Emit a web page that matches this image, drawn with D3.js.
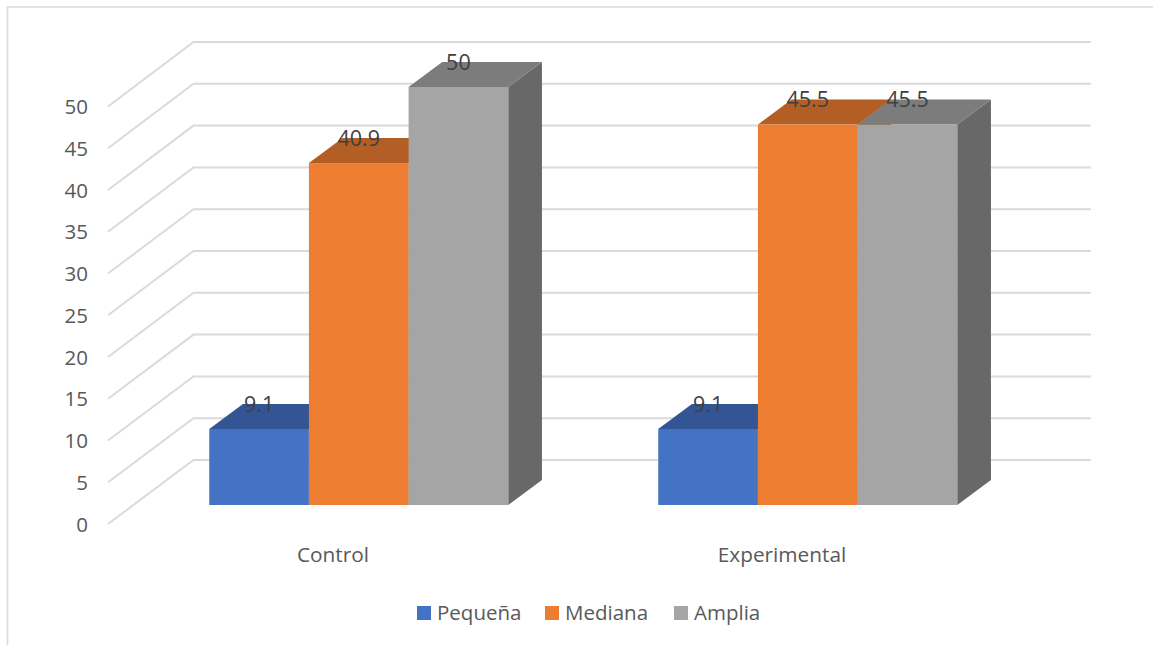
<!DOCTYPE html>
<html>
<head>
<meta charset="utf-8">
<script src="https://cdn.jsdelivr.net/npm/d3@7"></script>
<style>
html,body{margin:0;padding:0;background:#fff;}
svg{display:block;}
text{font-family:"Open Sans","Noto Sans",sans-serif;}
</style>
</head>
<body>
<svg id="chart" width="1153" height="645"></svg>
<script>
const categories = ["Control", "Experimental"];
const seriesNames = ["Pequeña", "Mediana", "Amplia"];
const pequena = [9.1, 9.1];
const mediana = [40.9, 45.5];
const amplia = [50, 45.5];
const seriesValues = [pequena, mediana, amplia];
const yTicks = [0, 5, 10, 15, 20, 25, 30, 35, 40, 45, 50];
const frontColors = ["#4472C4", "#ED7D31", "#A5A5A5"];
const topColors = ["#335593", "#B25E25", "#7C7C7C"];
const sideColors = ["#2A4679", "#8F4A1D", "#686868"];

const svg = d3.select("#chart");

// Outer chart frame: only its top and left edges show
svg.append("path").attr("d", "M7.5,645V7H1153").attr("fill", "none").attr("stroke", "#d9d9d9").attr("stroke-width", 1.6);

// Scales for the back wall, the wall's front edge and the bar fronts
const yBack = d3.scaleLinear().domain([0, 50]).range([460, 42]);
const yWallFront = d3.scaleLinear().domain([0, 50]).range([524, 106.5]);
const yBar = d3.scaleLinear().domain([0, 50]).range([505, 87]);
const x0 = d3.scaleBand().domain(categories).range([134.5, 1032.5]);
const x1 = d3.scaleBand().domain(seriesNames).range([74.75, 373.75]);
const wallLeft = 108, wallBack = 193.5, wallRight = 1091;
const depthX = 33.7, depthY = 25;

// Gridlines run along the side wall and then across the back wall
const grid = svg.append("g").attr("fill", "none").attr("stroke", "#dadada").attr("stroke-width", 2);
grid.selectAll("path").data(yTicks).join("path")
  .attr("d", v => d3.line()([[wallLeft, yWallFront(v)], [wallBack, yBack(v)], [wallRight, yBack(v)]]));

// Value axis, placed against the front edge of the wall
const axis = svg.append("g").attr("transform", "translate(88,0)")
  .call(d3.axisLeft(yWallFront).tickValues(yTicks).tickSize(0).tickPadding(0));
axis.select(".domain").remove();
axis.selectAll("text").attr("font-size", 20.5).attr("fill", "#595959")
  .style("font-family", '"Open Sans","Noto Sans",sans-serif').attr("dy", "0.35em");

// Bars: each is a front, a top and a side face, painted left to right
const poly = pts => d3.line()(pts) + "Z";
categories.forEach((cat, c) => {
  const g = svg.append("g");
  seriesNames.forEach((name, s) => {
    const v = seriesValues[s][c];
    const xl = x0(cat) + x1(name), xr = xl + x1.bandwidth();
    const yt = yBar(v), yb = yBar(0);
    g.append("path").attr("fill", sideColors[s])
      .attr("d", poly([[xr, yt], [xr + depthX, yt - depthY], [xr + depthX, yb - depthY], [xr, yb]]));
    g.append("path").attr("fill", topColors[s])
      .attr("d", poly([[xl, yt], [xl + depthX, yt - depthY], [xr + depthX, yt - depthY], [xr, yt]]));
    g.append("rect").attr("fill", frontColors[s])
      .attr("x", xl).attr("y", yt).attr("width", x1.bandwidth()).attr("height", yb - yt);
  });
});

// Value labels sit on the back edge of each bar's top face
categories.forEach((cat, c) => {
  seriesNames.forEach((name, s) => {
    const v = seriesValues[s][c];
    svg.append("text")
      .attr("x", x0(cat) + x1(name) + x1.bandwidth() / 2)
      .attr("y", yBar(v) - depthY)
      .attr("dy", "0.36em")
      .attr("text-anchor", "middle")
      .attr("font-size", 21.5).attr("fill", "#404040")
      .text(v);
  });
});

// Category labels
svg.selectAll(".cat").data(categories).join("text").attr("class", "cat")
  .attr("x", d => x0(d) + x0.bandwidth() / 2 - 26)
  .attr("y", 555).attr("dy", "0.36em")
  .attr("text-anchor", "middle")
  .attr("font-size", 20.8).attr("fill", "#595959")
  .text(d => d);

// Legend
const legendX = [417, 545, 674];
const legend = svg.selectAll(".legend").data(seriesNames).join("g").attr("class", "legend")
  .attr("transform", (d, i) => `translate(${legendX[i]},606)`);
legend.append("rect").attr("width", 14).attr("height", 14).attr("fill", (d, i) => frontColors[i]);
legend.append("text").attr("x", 20).attr("y", 7).attr("dy", "0.36em")
  .attr("font-size", 20.5).attr("fill", "#595959").text(d => d);
</script>
</body>
</html>
